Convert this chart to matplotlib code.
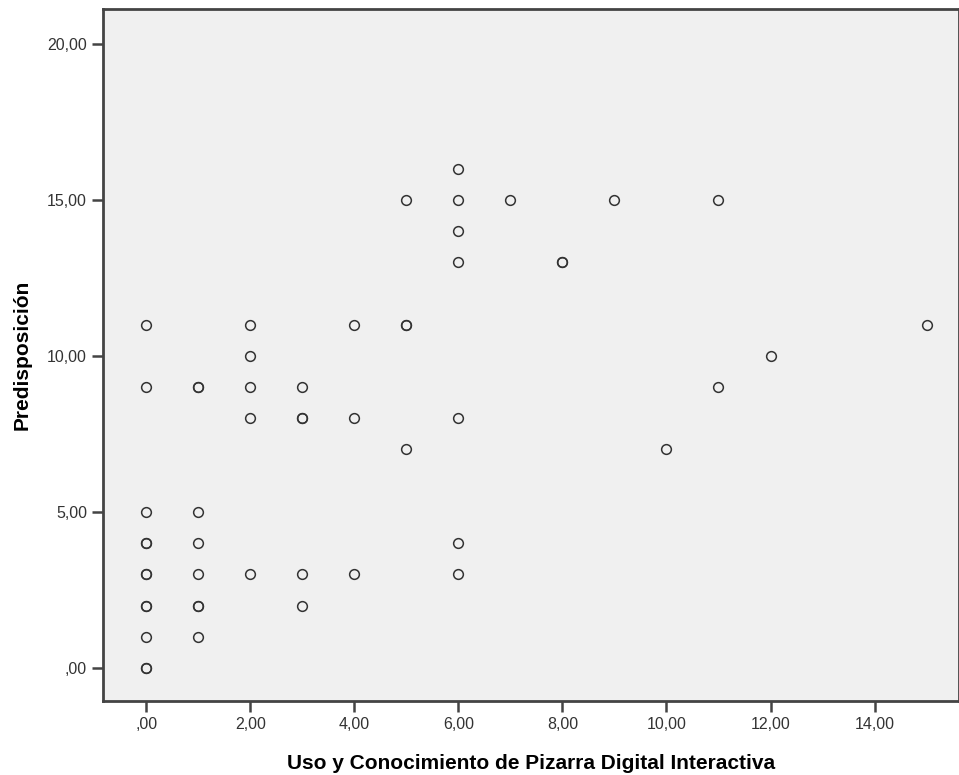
import matplotlib
matplotlib.use("Agg")
import matplotlib.pyplot as plt
from matplotlib.ticker import FuncFormatter

# Uso y Conocimiento de PDI (x) vs Predisposición (y); repeated pairs = overlapping cases
uso = [0, 0, 0, 0, 0, 0, 0, 0, 0, 0, 0, 0,
       1, 1, 1, 1, 1, 1, 1, 1,
       2, 2, 2, 2, 2,
       3, 3, 3, 3, 3,
       4, 4, 4,
       5, 5, 5, 5,
       6, 6, 6, 6, 6, 6, 6,
       7, 8, 8, 9, 10, 11, 11, 12, 15]
pred = [11, 9, 5, 4, 4, 3, 3, 2, 2, 1, 0, 0,
        9, 9, 5, 4, 3, 2, 2, 1,
        11, 10, 9, 8, 3,
        9, 8, 8, 3, 2,
        11, 8, 3,
        15, 11, 11, 7,
        16, 15, 14, 13, 8, 4, 3,
        15, 13, 13, 15, 7, 15, 9, 10, 11]

xticks = [0, 2, 4, 6, 8, 10, 12, 14]
yticks = [0, 5, 10, 15, 20]

plt.rcParams['font.family'] = ['Liberation Sans', 'DejaVu Sans']

fig = plt.figure(figsize=(9.59, 7.75), dpi=100)
ax = fig.add_axes([0.1074, 0.0955, 0.893, 0.893])
ax.set_facecolor('#f0f0f0')

ax.plot(uso, pred, linestyle='none', marker='o', markersize=7,
        markerfacecolor='none', markeredgecolor='#333333', markeredgewidth=1.1)

ax.set_xlim(-0.83, 15.63)
ax.set_ylim(-1.06, 21.12)
ax.set_xticks(xticks)
ax.set_yticks(yticks)
fmt = FuncFormatter(lambda v, p: ('%.2f' % v).replace('.', ',').lstrip('0') if v == 0 else ('%.2f' % v).replace('.', ','))
ax.xaxis.set_major_formatter(fmt)
ax.yaxis.set_major_formatter(fmt)

for s in ax.spines.values():
    s.set_color('#444444')
    s.set_linewidth(2)
ax.tick_params(colors='#444444', width=1.8, length=8, labelsize=11.5, labelcolor='#333333')

ax.set_xlabel('Uso y Conocimiento de Pizarra Digital Interactiva', fontsize=15,
              fontweight='bold', labelpad=16)
ax.set_ylabel('Predisposición', fontsize=15, fontweight='bold', labelpad=11)

fig.savefig('out.png', dpi=100)
